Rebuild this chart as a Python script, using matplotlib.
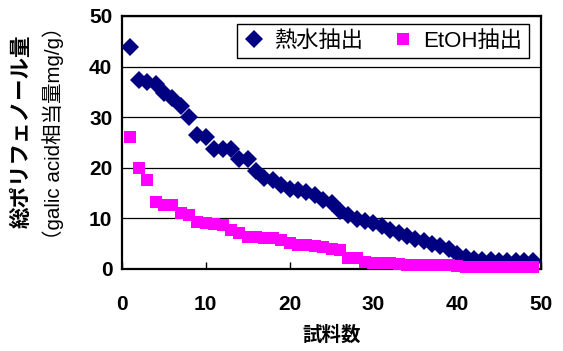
import matplotlib
matplotlib.use("Agg")
import matplotlib.pyplot as plt
import numpy as np

plt.rcParams['font.family'] = ['Liberation Sans', 'Noto Sans CJK JP']

samples = list(range(1, 50))
hot_water = [43.9, 37.4, 37.0, 36.6, 34.8, 33.7, 32.2, 30.1, 26.5, 26.0,
             23.7, 23.7, 23.7, 21.7, 21.7, 19.4, 17.9, 17.6, 16.6, 15.8,
             15.6, 15.3, 14.6, 13.6, 13.0, 11.5, 10.7, 9.9, 9.5, 9.1,
             8.4, 7.7, 7.2, 6.6, 6.0, 5.5, 5.0, 4.6, 3.9, 3.0,
             2.3, 1.9, 1.8, 1.7, 1.6, 1.6, 1.5, 1.5, 1.5]
etoh = [26.1, 20.0, 17.6, 13.3, 12.6, 12.6, 11.0, 10.7, 9.3, 9.0,
        8.9, 8.7, 7.7, 7.1, 6.4, 6.3, 6.1, 6.1, 5.7, 5.1,
        4.7, 4.7, 4.5, 4.3, 4.0, 3.7, 2.2, 2.1, 1.4, 1.2,
        1.2, 1.1, 1.0, 0.8, 0.8, 0.7, 0.7, 0.7, 0.7, 0.6,
        0.3, 0.3, 0.3, 0.3, 0.3, 0.3, 0.3, 0.3, 0.3]
ticks = [0, 10, 20, 30, 40, 50]
series_labels = ['熱水抽出', 'EtOH抽出']

fig = plt.figure(figsize=(5.63, 3.51), dpi=100)
ax = fig.add_axes([122/563, 1-269/351, (541-122)/563, (269-16)/351])

ax.plot(samples, hot_water, linestyle='none', marker='D', markersize=9.2,
        color='#000080', markeredgewidth=0, label=series_labels[0], clip_on=False, zorder=3)
ax.plot(samples, etoh, linestyle='none', marker='s', markersize=8.4,
        color='#FF00FF', markeredgewidth=0, label=series_labels[1], clip_on=False, zorder=4)

ax.set_xlim(0, 50)
ax.set_ylim(0, 50)
ax.set_xticks(ticks)
ax.set_yticks(ticks)
ax.yaxis.grid(True, color='black', linewidth=0.9)
ax.set_axisbelow(True)
for s in ax.spines.values():
    s.set_linewidth(1.6)
    s.set_color('black')
ax.tick_params(axis='x', direction='in', length=5, width=1, pad=19, labelsize=15)
ax.tick_params(axis='y', direction='in', length=0, pad=7, labelsize=15)
for lab in ax.get_xticklabels() + ax.get_yticklabels():
    lab.set_fontweight('bold')

ax.set_xlabel('試料数', fontsize=14, fontweight='bold', labelpad=8)

fig.text(22/563, 1-131/351, '総ポリフェノール量', rotation=90, ha='center', va='center',
         fontsize=15.5, fontweight='bold')
fig.text(53/563, 1-133/351, '（galic acid相当量mg/g）', rotation=90, ha='center', va='center',
         fontsize=14.8)

leg = ax.legend(loc='upper right', ncol=2, fontsize=16, frameon=True, fancybox=False,
                framealpha=1, edgecolor='black', borderpad=0.3, handlelength=1.0,
                handletextpad=0.4, columnspacing=1.3, bbox_to_anchor=(0.9715, 0.968),
                borderaxespad=0, markerscale=0.95)
leg.get_frame().set_linewidth(1.0)

fig.savefig('out.png', dpi=100)
